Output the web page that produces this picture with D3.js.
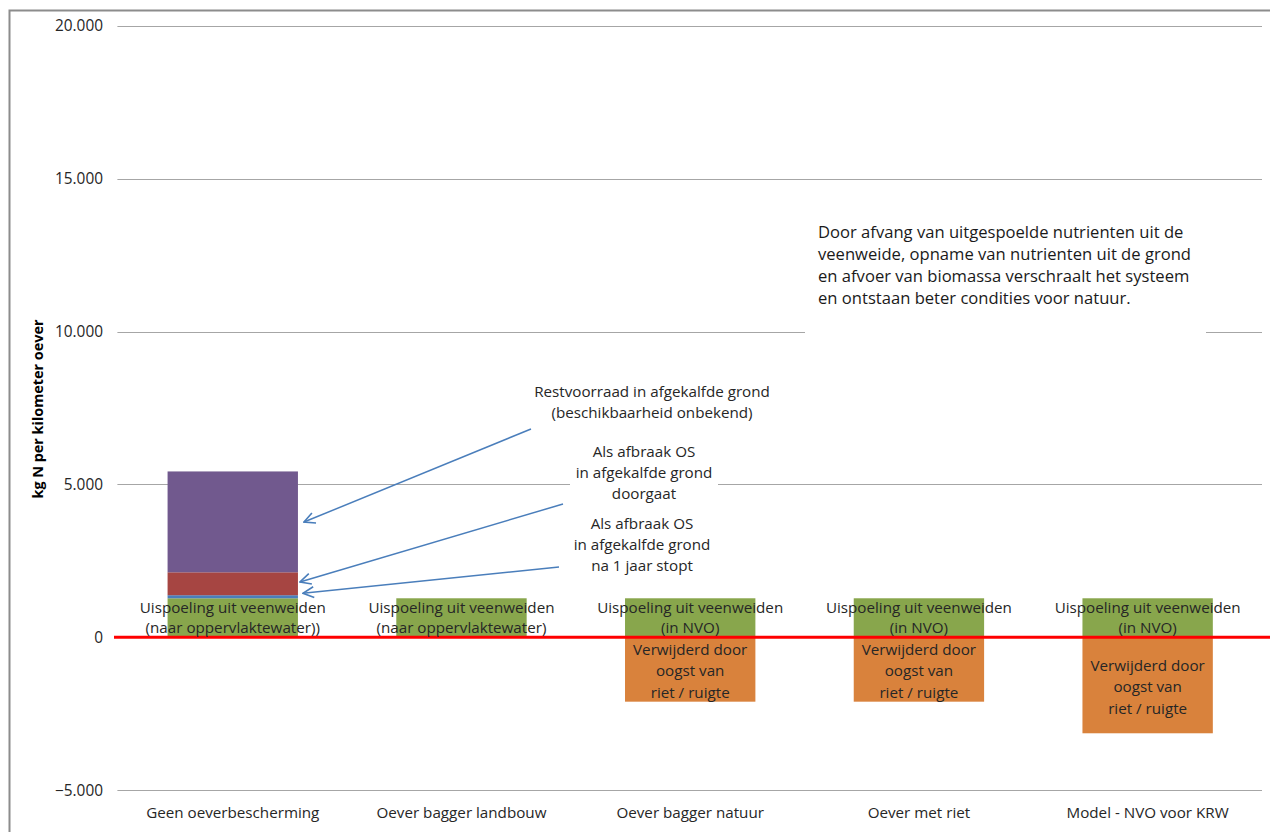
<!DOCTYPE html>
<html>
<head>
<meta charset="utf-8">
<script src="https://cdn.jsdelivr.net/npm/d3@7"></script>
<style>
  body { margin: 0; background: #fff; }
  svg { display: block; font-family: "Open Sans", sans-serif; }
  .tick-label { font-size: 15.4px; fill: #262626; }
  .lbl { font-size: 15.2px; fill: #262626; }
  .note { font-size: 16.6px; fill: #1a1a1a; }
</style>
</head>
<body>
<svg id="chart" width="1270" height="832"></svg>
<script>
// categories and series (kg N per km oever)
var categories = ["Geen oeverbescherming", "Oever bagger landbouw", "Oever bagger natuur", "Oever met riet", "Model - NVO voor KRW"];
var uitspoeling = [1276, 1276, 1276, 1276, 1276];
var stopt = [100, 0, 0, 0, 0];
var doorgaat = [750, 0, 0, 0, 0];
var restvoorraad = [3300, 0, 0, 0, 0];
var oogst = [0, 0, -2107, -2107, -3141];
var yTicks = [-5000, 0, 5000, 10000, 15000, 20000];

var greenLabels = [
    ["Uispoeling uit veenweiden", "(naar oppervlaktewater))"],
    ["Uispoeling uit veenweiden", "(naar oppervlaktewater)"],
    ["Uispoeling uit veenweiden", "(in NVO)"],
    ["Uispoeling uit veenweiden", "(in NVO)"],
    ["Uispoeling uit veenweiden", "(in NVO)"]
];
var oogstLabel = ["Verwijderd door", "oogst van", "riet / ruigte"];
var noteText = [
    "Door afvang van uitgespoelde nutrienten uit de",
    "veenweide,  opname van nutrienten uit de grond",
    "en afvoer van biomassa verschraalt het systeem",
    "en ontstaan beter condities voor natuur."
];

var keys = ["uitspoeling", "stopt", "doorgaat", "restvoorraad", "oogst"];
var colors = {
    uitspoeling: "#88a64c",
    stopt: "#4a7ebb",
    doorgaat: "#a64542",
    restvoorraad: "#71598e",
    oogst: "#d9823c"
};

var rows = categories.map(function(c, i) {
    return {cat: c, uitspoeling: uitspoeling[i], stopt: stopt[i], doorgaat: doorgaat[i],
            restvoorraad: restvoorraad[i], oogst: oogst[i]};
});

var svg = d3.select("#chart");

var x = d3.scaleBand().domain(categories).range([118.4, 1262])
    .paddingInner(0.43).paddingOuter(0.215);
var y = d3.scaleLinear().domain([-5000, 20000]).range([790.1, 26]);

var nl = d3.formatLocale({decimal: ",", thousands: ".", grouping: [3], currency: ["€", ""]});
var fmt = nl.format(",.0f");

// outer border
svg.append("path")
    .attr("d", "M9.5,832 V10.5 H1270")
    .attr("fill", "none")
    .attr("stroke", "#8c8c8c")
    .attr("stroke-width", 2);

// gridlines
svg.append("g").selectAll("line")
    .data(yTicks)
    .enter().append("line")
    .attr("x1", x.range()[0] - 1)
    .attr("x2", x.range()[1])
    .attr("y1", function(d) { return Math.round(y(d)) + 0.5; })
    .attr("y2", function(d) { return Math.round(y(d)) + 0.5; })
    .attr("stroke", "#a6a6a6")
    .attr("stroke-width", 1);

// y axis labels
var yAxis = d3.axisLeft(y).tickValues(yTicks).tickFormat(fmt).tickSize(0).tickPadding(0);
var ga = svg.append("g").attr("transform", "translate(103,0)").call(yAxis);
ga.attr("font-family", null).attr("font-size", null);
ga.select(".domain").remove();
ga.selectAll("text").attr("class", "tick-label").attr("fill", null);

// axis title
svg.append("text")
    .attr("transform", "translate(43,409) rotate(-90)")
    .attr("text-anchor", "middle")
    .style("font-size", "14.4px")
    .style("font-weight", "bold")
    .style("fill", "#000")
    .text("kg N per kilometer oever");

// stacked bars
var series = d3.stack().keys(keys).offset(d3.stackOffsetDiverging)(rows);

svg.append("g").selectAll("g")
    .data(series)
    .enter().append("g")
    .attr("fill", function(d) { return colors[d.key]; })
    .selectAll("rect")
    .data(function(d) { return d; })
    .enter().append("rect")
    .attr("x", function(d) { return x(d.data.cat); })
    .attr("width", x.bandwidth())
    .attr("y", function(d) { return y(Math.max(d[0], d[1])); })
    .attr("height", function(d) { return Math.abs(y(d[0]) - y(d[1])); });

// zero line
svg.append("line")
    .attr("x1", 114).attr("x2", 1270)
    .attr("y1", y(0)).attr("y2", y(0))
    .attr("stroke", "#ff0000")
    .attr("stroke-width", 3);

// data labels
function multiline(g, lines, cx, cy, lh) {
    var t = g.append("text").attr("class", "lbl").attr("text-anchor", "middle");
    var top = cy - (lines.length - 1) * lh / 2 + 5;
    lines.forEach(function(s, i) {
        t.append("tspan").attr("x", cx).attr("y", top + i * lh).text(s);
    });
    return t;
}

var lg = svg.append("g");
rows.forEach(function(r, i) {
    var cx = x(r.cat) + x.bandwidth() / 2;
    multiline(lg, greenLabels[i], cx, y(r.uitspoeling / 2), 20);
    if (r.oogst < 0) {
        multiline(lg, oogstLabel, cx, y(r.oogst / 2) + 2, 21.3);
    }
});

// x labels
svg.append("g").selectAll("text")
    .data(categories)
    .enter().append("text")
    .attr("class", "lbl")
    .attr("text-anchor", "middle")
    .attr("x", function(d) { return x(d) + x.bandwidth() / 2; })
    .attr("y", 818)
    .text(function(d) { return d; });

// annotation text box top right
svg.append("rect").attr("x", 805).attr("y", 214).attr("width", 401).attr("height", 124).attr("fill", "#fff");
var nt = svg.append("text").attr("class", "note");
noteText.forEach(function(s, i) {
    nt.append("tspan").attr("x", 818).attr("y", 237.5 + i * 22).text(s);
});

// arrow annotations
var defs = svg.append("defs");
defs.append("marker")
    .attr("id", "arr")
    .attr("viewBox", "0 0 12 12")
    .attr("refX", 11).attr("refY", 6)
    .attr("markerWidth", 13).attr("markerHeight", 13)
    .attr("markerUnits", "userSpaceOnUse")
    .attr("orient", "auto")
    .append("path")
    .attr("d", "M1,1 L11,6 L1,11")
    .attr("fill", "none")
    .attr("stroke", "#4a7ebb")
    .attr("stroke-width", 1.5);

var bar0 = x(categories[0]) + x.bandwidth();
var notes = [
    {lines: ["Restvoorraad in afgekalfde grond", "(beschikbaarheid onbekend)"], cx: 652, top: 397,
     from: [531, 429], tipX: bar0 + 6, tipV: 3770, box: false},
    {lines: ["Als afbraak OS", "in afgekalfde grond", "doorgaat"], cx: 644, top: 457,
     from: [563, 504], tipX: bar0 + 2, tipV: 1810, box: [570, 440, 148, 66]},
    {lines: ["Als afbraak OS", "in afgekalfde grond", "na 1 jaar stopt"], cx: 642, top: 529,
     from: [559, 567], tipX: bar0 + 5, tipV: 1440, box: false}
];

notes.forEach(function(n) {
    if (n.box) {
        svg.append("rect").attr("x", n.box[0]).attr("y", n.box[1])
            .attr("width", n.box[2]).attr("height", n.box[3]).attr("fill", "#fff");
    }
    var t = svg.append("text").attr("class", "lbl").attr("text-anchor", "middle");
    n.lines.forEach(function(s, i) {
        t.append("tspan").attr("x", n.cx).attr("y", n.top + i * 21.2).text(s);
    });
    svg.append("line")
        .attr("x1", n.from[0]).attr("y1", n.from[1])
        .attr("x2", n.tipX).attr("y2", y(n.tipV))
        .attr("stroke", "#4a7ebb")
        .attr("stroke-width", 1.5)
        .attr("marker-end", "url(#arr)");
});
</script>
</body>
</html>
